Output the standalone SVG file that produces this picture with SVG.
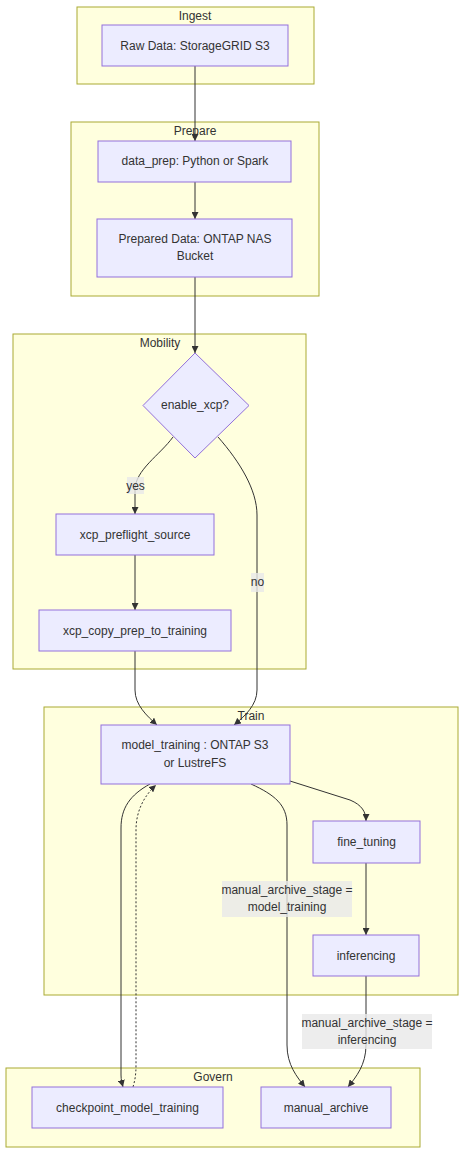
<svg xmlns="http://www.w3.org/2000/svg" width="466" height="1155" viewBox="0 0 466 1155">
<style>
.cl{fill:#ffffde;stroke:#aaaa33;stroke-width:1}
.nd{fill:#ececff;stroke:#9370db;stroke-width:1}
text{font-family:"Liberation Sans",Arial,sans-serif;font-size:12px;fill:#333;text-anchor:middle;dominant-baseline:central}
.e{fill:none;stroke:#333;stroke-width:1}
.d{stroke-dasharray:2 2}
.lb{fill:#e8e8e8;fill-opacity:0.8}
</style>
<defs>
<marker id="ah" viewBox="0 0 10 10" refX="10" refY="5" markerWidth="7" markerHeight="7" markerUnits="userSpaceOnUse" orient="auto">
<path d="M0,0 L10,5 L0,10 z" fill="#333"/>
</marker>
</defs>
<g id="clusters">
<g id="Ingest"><rect class="cl" x="77" y="7" width="237" height="77"/><text x="195" y="16">Ingest</text></g>
<g id="Prepare"><rect class="cl" x="71" y="122" width="248" height="174"/><text x="195" y="131">Prepare</text></g>
<g id="Mobility"><rect class="cl" x="13" y="334" width="293" height="335"/><text x="160" y="343">Mobility</text></g>
<g id="Train"><rect class="cl" x="44" y="707" width="414" height="288"/><text x="251" y="716">Train</text></g>
<g id="Govern"><rect class="cl" x="6" y="1068" width="414" height="79"/><text x="213" y="1077">Govern</text></g>
</g>
<g id="edges">
<path class="e" d="M195,66 L195,141" marker-end="url(#ah)"/>
<path class="e" d="M195,182 L195,219" marker-end="url(#ah)"/>
<path class="e" d="M195,277 L195,353" marker-end="url(#ah)"/>
<path class="e" d="M173,437 C160,455 135,470 135,490 L135,514" marker-end="url(#ah)"/>
<path class="e" d="M218,437 C240,462 257,490 257,515 L257,690 C257,705 245,716 234,725" marker-end="url(#ah)"/>
<path class="e" d="M135,555 L135,610" marker-end="url(#ah)"/>
<path class="e" d="M135,651 L135,690 C135,705 147,716 157,725" marker-end="url(#ah)"/>
<path class="e" d="M290,781 L350,800 C362,805 366,812 366,821" marker-end="url(#ah)"/>
<path class="e" d="M366,863 L366,935" marker-end="url(#ah)"/>
<path class="e" d="M150,784 C130,795 121,808 121,828 L121,1075 C121,1080 122,1083 123,1087" marker-end="url(#ah)"/>
<path class="e d" d="M133,1087 C135,1080 136,1075 136,1065 L136,830 C136,810 145,795 156,785" marker-end="url(#ah)"/>
<path class="e" d="M251,784 C275,795 287,805 287,825 L287,1045 C287,1065 297,1077 305,1087" marker-end="url(#ah)"/>
<path class="e" d="M366,976 L366,1045 C366,1065 356,1077 348,1087" marker-end="url(#ah)"/>
<rect class="lb" x="127" y="477" width="17" height="17"/><text x="135.5" y="486">yes</text>
<rect class="lb" x="251" y="573" width="13" height="19"/><text x="257.5" y="582">no</text>
<rect class="lb" x="222" y="881" width="130" height="36"/><text x="287" y="890">manual_archive_stage =</text><text x="287" y="907">model_training</text>
<rect class="lb" x="302" y="1014" width="130" height="35"/><text x="367" y="1023">manual_archive_stage =</text><text x="367" y="1040">inferencing</text>
</g>
<g id="raw"><rect class="nd" x="102" y="25" width="186" height="41"/><text x="195" y="45.5">Raw Data: StorageGRID S3</text></g>
<g id="data_prep"><rect class="nd" x="98" y="141" width="193" height="41"/><text x="195" y="161">data_prep: Python or Spark</text></g>
<g id="prepared"><rect class="nd" x="97" y="219" width="195" height="58"/><text x="195" y="239">Prepared Data: ONTAP NAS</text><text x="195" y="256">Bucket</text></g>
<g id="enable_xcp"><polygon class="nd" points="195,353 249,405.5 195,458 143,405.5"/><text x="195" y="405">enable_xcp?</text></g>
<g id="xcp_preflight_source"><rect class="nd" x="56" y="514" width="158" height="41"/><text x="135" y="534.5">xcp_preflight_source</text></g>
<g id="xcp_copy_prep_to_training"><rect class="nd" x="39" y="610" width="192" height="41"/><text x="135" y="630.5">xcp_copy_prep_to_training</text></g>
<g id="model_training"><rect class="nd" x="101" y="725" width="189" height="59"/><text x="195" y="745">model_training : ONTAP S3</text><text x="195" y="763">or LustreFS</text></g>
<g id="fine_tuning"><rect class="nd" x="313" y="821" width="107" height="42"/><text x="366.5" y="842">fine_tuning</text></g>
<g id="inferencing"><rect class="nd" x="313" y="935" width="106" height="41"/><text x="366" y="955.5">inferencing</text></g>
<g id="checkpoint_model_training"><rect class="nd" x="32" y="1087" width="191" height="41"/><text x="127.5" y="1107.5">checkpoint_model_training</text></g>
<g id="manual_archive"><rect class="nd" x="261" y="1087" width="130" height="41"/><text x="326" y="1107.5">manual_archive</text></g>
</svg>
